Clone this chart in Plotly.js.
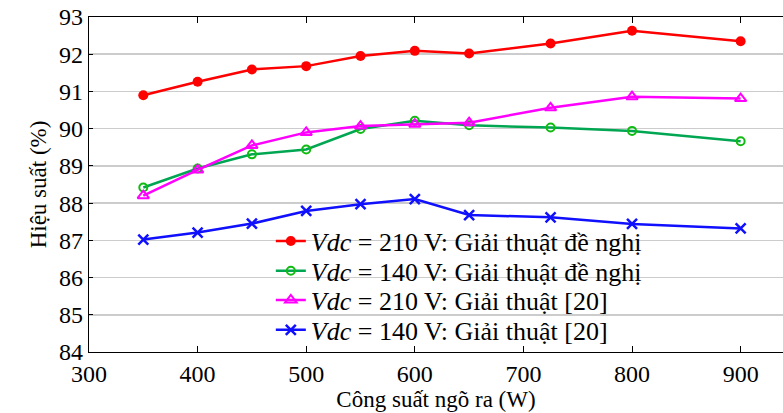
<!DOCTYPE html>
<html>
<head>
<meta charset="utf-8">
<script src="https://cdn.plot.ly/plotly-3.0.1.min.js"></script>
<style>html,body{margin:0;padding:0;background:#fff;}#chart{width:783px;height:413px;}</style>
</head>
<body>
<div id="chart"></div>
<script>
var power = [350, 400, 450, 500, 550, 600, 650, 725, 800, 900];
var vdc210Proposed = [90.90, 91.26, 91.59, 91.68, 91.95, 92.09, 92.02, 92.29, 92.63, 92.35];
var vdc140Proposed = [88.42, 88.93, 89.31, 89.44, 89.99, 90.21, 90.09, 90.03, 89.94, 89.66];
var vdc210Ref20 = [88.20, 88.89, 89.55, 89.90, 90.07, 90.12, 90.16, 90.56, 90.86, 90.81];
var vdc140Ref20 = [87.02, 87.21, 87.45, 87.79, 87.97, 88.11, 87.68, 87.62, 87.44, 87.32];
var seriesNames = [
  '<i>Vdc</i> = 210 V: Giải thuật đề nghị',
  '<i>Vdc</i> = 140 V: Giải thuật đề nghị',
  '<i>Vdc</i> = 210 V: Giải thuật [20]',
  '<i>Vdc</i> = 140 V: Giải thuật [20]'
];
var xTickVals = [300, 400, 500, 600, 700, 800, 900];
var xTickText = ['300', '400', '500', '600', '700', '800', '900'];
var xTitle = 'Công suất ngõ ra (W)';
var yTitle = 'Hiệu suất (%)';

var font = 'Liberation Serif';
var legendIds = ['legend', 'legend2', 'legend3', 'legend4'];
var traces = [
  {x: power, y: vdc210Proposed, name: seriesNames[0], mode: 'lines+markers', legend: legendIds[0],
   line: {color: '#ff0000', width: 2.5},
   marker: {symbol: 'circle', size: 10, color: '#ff0000'}},
  {x: power, y: vdc140Proposed, name: seriesNames[1], mode: 'lines+markers', legend: legendIds[1],
   line: {color: '#00a651', width: 2.5},
   marker: {symbol: 'circle-open', size: 8, color: '#11bb11', line: {width: 2}}},
  {x: power, y: vdc210Ref20, name: seriesNames[2], mode: 'lines+markers', legend: legendIds[2],
   line: {color: '#ff00ff', width: 2.5},
   marker: {symbol: 'triangle-up-open', size: 10, color: '#ff00ff', line: {width: 2}}},
  {x: power, y: vdc140Ref20, name: seriesNames[3], mode: 'lines+markers', legend: legendIds[3],
   line: {color: '#1010ff', width: 2.5},
   marker: {symbol: 'x-thin-open', size: 10, color: '#1010ff', line: {width: 2.5}}}
];

function legendAt(y) {
  return {x: 0.262, y: y, xanchor: 'left', yanchor: 'middle',
    bgcolor: 'rgba(0,0,0,0)', borderwidth: 0, font: {family: font, size: 26, color: '#000'},
    itemwidth: 30};
}

var layout = {
  width: 783, height: 413,
  margin: {l: 89, r: 0, t: 17, b: 61},
  paper_bgcolor: '#fff', plot_bgcolor: '#fff',
  font: {family: font, size: 22, color: '#000'},
  showlegend: true,
  legend: legendAt(0.331),
  legend2: legendAt(0.242),
  legend3: legendAt(0.155),
  legend4: legendAt(0.066),
  shapes: [
    {type: 'rect', xref: 'paper', yref: 'paper', x0: 0.2565, x1: 0.8055, y0: 0.197, y1: 0.376,
     fillcolor: '#fff', line: {width: 0}, layer: 'between'},
    {type: 'rect', xref: 'paper', yref: 'paper', x0: 0.2565, x1: 0.7536, y0: 0.018, y1: 0.197,
     fillcolor: '#fff', line: {width: 0}, layer: 'between'}
  ],
  xaxis: {range: [300, 939], tickmode: 'array', tickvals: xTickVals, ticktext: xTickText,
    showgrid: false, zeroline: false,
    showline: true, linecolor: '#000', linewidth: 1.2, mirror: 'ticks',
    ticks: 'inside', ticklen: 6, tickcolor: '#000', tickwidth: 1,
    tickfont: {family: font, size: 24, color: '#000'},
    title: {text: xTitle, font: {family: font, size: 23, color: '#000'}, standoff: 4}},
  yaxis: {range: [84, 93], tick0: 84, dtick: 1, showgrid: true, gridcolor: '#cccccc', gridwidth: 1.5,
    zeroline: false, showline: true, linecolor: '#000', linewidth: 1.2,
    ticks: 'inside', ticklen: 4, tickcolor: '#000', tickwidth: 1,
    tickfont: {family: font, size: 24, color: '#000'},
    title: {text: yTitle, font: {family: font, size: 23, color: '#000'}, standoff: 6}}
};
Plotly.newPlot('chart', traces, layout, {displayModeBar: false, staticPlot: true});
</script>
</body>
</html>
